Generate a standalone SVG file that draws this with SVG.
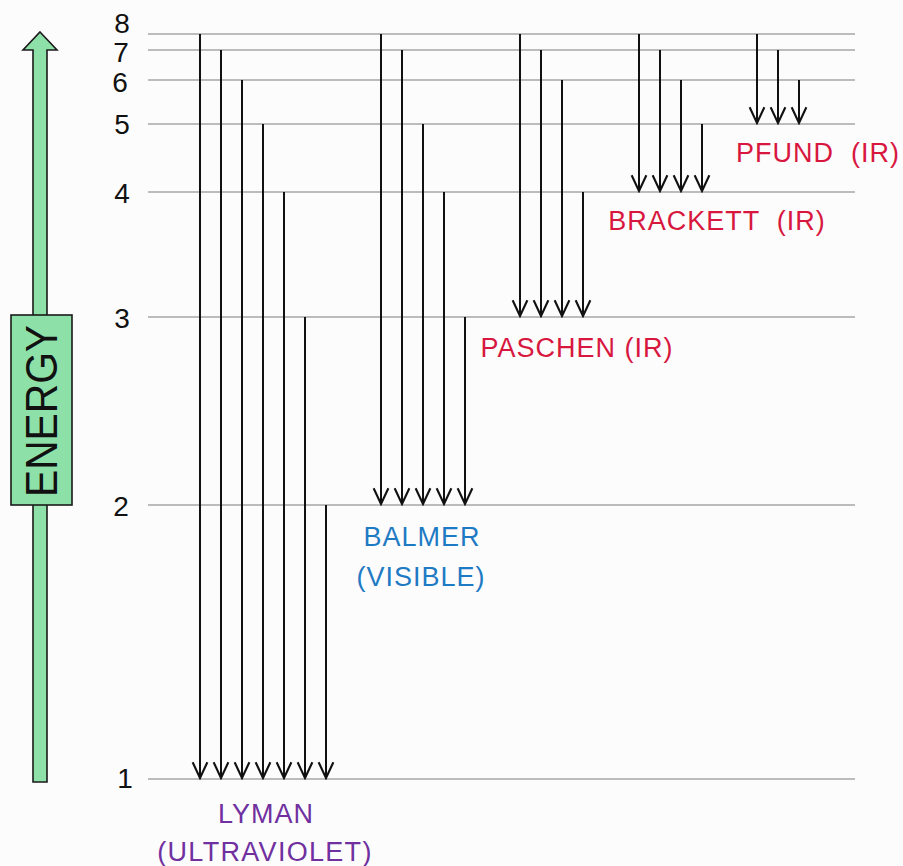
<svg xmlns="http://www.w3.org/2000/svg" width="903" height="866" viewBox="0 0 903 866">
<defs>
<style>
.lvl{stroke:#bcbcbc;stroke-width:2;fill:none}
.arr{stroke:#111;stroke-width:2;fill:none;marker-end:url(#ah)}
.num{font-family:"Liberation Sans",Arial,sans-serif;font-size:28px;fill:#111;text-anchor:middle}
.lab{font-family:"Liberation Sans",Arial,sans-serif;font-size:27px;text-anchor:middle;white-space:pre}
.red{fill:#d8173f}
.blue{fill:#1f7ac4}
.purple{fill:#7030a0}
</style>
<marker id="ah" markerUnits="userSpaceOnUse" markerWidth="20" markerHeight="20" viewBox="-17 -9 19 18" refX="0" refY="0" orient="auto">
<path d="M-15,-7 L0,0 L-15,7" fill="none" stroke="#111" stroke-width="2" stroke-linejoin="miter"/>
</marker>
</defs>
<rect width="903" height="866" fill="#fcfcfc"/>

<g id="levels">
<line class="lvl" x1="148" y1="34" x2="855" y2="34"/>
<line class="lvl" x1="148" y1="50" x2="855" y2="50"/>
<line class="lvl" x1="148" y1="80" x2="855" y2="80"/>
<line class="lvl" x1="148" y1="124" x2="855" y2="124"/>
<line class="lvl" x1="148" y1="192" x2="855" y2="192"/>
<line class="lvl" x1="148" y1="317" x2="855" y2="317"/>
<line class="lvl" x1="148" y1="505" x2="855" y2="505"/>
<line class="lvl" x1="148" y1="779" x2="855" y2="779"/>
</g>

<g id="level-numbers">
<text class="num" x="122" y="33">8</text>
<text class="num" x="121" y="62">7</text>
<text class="num" x="120" y="92">6</text>
<text class="num" x="122" y="134">5</text>
<text class="num" x="122" y="203">4</text>
<text class="num" x="122" y="328">3</text>
<text class="num" x="121" y="516">2</text>
<text class="num" x="125" y="788">1</text>
</g>

<g id="energy-axis">
<polygon points="40,32 57,50 47,50 47,782 33,782 33,50 23,50" fill="#8ee0a9" stroke="#1a1a1a" stroke-width="1.6" stroke-linejoin="miter"/>
<rect x="11" y="315" width="61" height="190" fill="#8ee0a9" stroke="#1a1a1a" stroke-width="1.6"/>
<text transform="translate(57,411) rotate(-90)" font-family="Liberation Sans,Arial,sans-serif" font-size="44" fill="#111" text-anchor="middle" textLength="172" lengthAdjust="spacingAndGlyphs">ENERGY</text>
</g>

<g id="connectors">
<!-- Lyman -->
<line class="arr" x1="200" y1="34" x2="200" y2="778"/>
<line class="arr" x1="221" y1="50" x2="221" y2="778"/>
<line class="arr" x1="242" y1="80" x2="242" y2="778"/>
<line class="arr" x1="263" y1="124" x2="263" y2="778"/>
<line class="arr" x1="284" y1="192" x2="284" y2="778"/>
<line class="arr" x1="305" y1="317" x2="305" y2="778"/>
<line class="arr" x1="326" y1="505" x2="326" y2="778"/>
<!-- Balmer -->
<line class="arr" x1="381" y1="34" x2="381" y2="504"/>
<line class="arr" x1="402" y1="50" x2="402" y2="504"/>
<line class="arr" x1="423" y1="124" x2="423" y2="504"/>
<line class="arr" x1="444" y1="192" x2="444" y2="504"/>
<line class="arr" x1="465" y1="317" x2="465" y2="504"/>
<!-- Paschen -->
<line class="arr" x1="520" y1="34" x2="520" y2="316"/>
<line class="arr" x1="541" y1="50" x2="541" y2="316"/>
<line class="arr" x1="562" y1="80" x2="562" y2="316"/>
<line class="arr" x1="583" y1="192" x2="583" y2="316"/>
<!-- Brackett -->
<line class="arr" x1="639" y1="34" x2="639" y2="191"/>
<line class="arr" x1="660" y1="50" x2="660" y2="191"/>
<line class="arr" x1="681" y1="80" x2="681" y2="191"/>
<line class="arr" x1="702" y1="124" x2="702" y2="191"/>
<!-- Pfund -->
<line class="arr" x1="757" y1="34" x2="757" y2="123"/>
<line class="arr" x1="778" y1="50" x2="778" y2="123"/>
<line class="arr" x1="799" y1="80" x2="799" y2="123"/>
</g>

<g id="lyman-label">
<text class="lab purple" x="266" y="823" letter-spacing="1">LYMAN</text>
<text class="lab purple" x="265" y="861" letter-spacing="1.3">(ULTRAVIOLET)</text>
</g>
<g id="balmer-label">
<text class="lab blue" x="422" y="546" letter-spacing="1">BALMER</text>
<text class="lab blue" x="421" y="586" letter-spacing="1">(VISIBLE)</text>
</g>
<g id="paschen-label">
<text class="lab red" x="577" y="357" letter-spacing="1">PASCHEN (IR)</text>
</g>
<g id="brackett-label">
<text class="lab red" x="717" y="230" letter-spacing="1">BRACKETT  (IR)</text>
</g>
<g id="pfund-label">
<text class="lab red" x="818" y="162" letter-spacing="1">PFUND  (IR)</text>
</g>
</svg>
